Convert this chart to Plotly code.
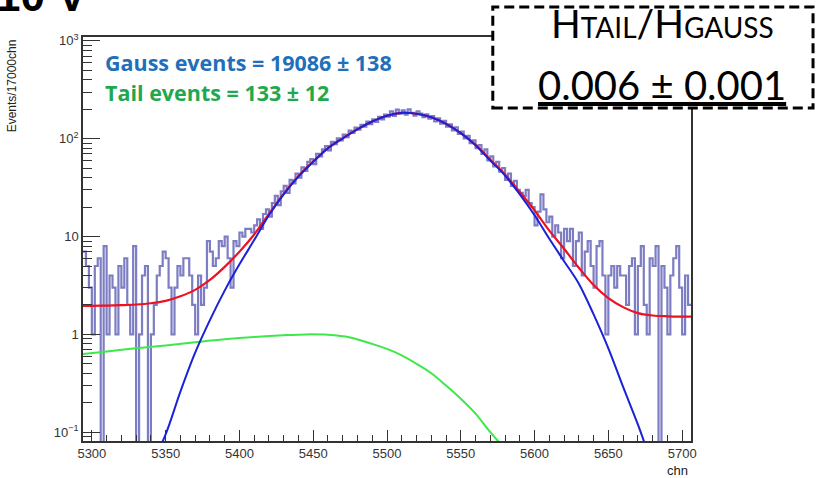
import plotly.graph_objects as go

# ---------------- data ----------------
BIN_START = 5294
BIN_WIDTH = 2
HIST_COUNTS = [
    7, 5, 3, 1, 5, 6, 0, 8, 1, 4,
    3, 1, 5, 3, 6, 2, 1, 8, 0, 1,
    4, 5, 0, 1, 2, 4, 5, 7, 6, 3,
    1, 3, 5, 4, 6, 6, 4, 2, 1, 4,
    2, 3, 9, 7, 5, 6, 9, 8, 10, 6,
    3, 9, 8, 11, 10, 12,
    12, 11, 13, 15, 12, 17, 19, 16, 22, 26,
    21, 29, 33, 28, 38, 35, 44, 40, 51, 47,
    58, 62, 55, 70, 66, 78, 84, 76, 93, 88,
    101, 96, 110, 104, 121, 115, 130, 124, 139, 133,
    150, 141, 158, 149, 167, 158, 176, 168, 190, 171,
    198, 180, 195, 176, 200, 184, 172, 190, 181, 166,
    178, 160, 170, 150, 162, 143, 152, 133, 140, 122,
    131, 112, 118, 101, 107, 90, 96, 80, 86, 70,
    78, 60, 66, 52, 58, 46, 50, 38, 44, 33,
    37, 30, 28, 26, 30, 22, 20, 13, 18, 27,
    19, 14, 16, 10, 13, 11, 6, 12, 9, 12,
    5, 9, 11, 4, 7, 9, 5, 3, 8, 9,
    4, 1, 4, 5, 3, 5, 4, 4, 2, 5,
    6, 1, 5, 8, 2, 1, 6, 5, 8, 0,
    5, 3, 1, 4, 6, 8, 3, 1, 4, 2,
]

TOTAL_X = [5294, 5300, 5310, 5320, 5330, 5340, 5350, 5360, 5370, 5380, 5390, 5400,
           5410, 5420, 5430, 5440, 5450, 5460, 5470, 5480, 5490, 5500, 5510, 5520,
           5530, 5540, 5550, 5560, 5570, 5580, 5590, 5600, 5610, 5620, 5630, 5640,
           5650, 5660, 5670, 5680, 5690, 5700, 5706]
TOTAL_Y = [1.95, 1.96, 1.97, 1.99, 2.02, 2.08, 2.2, 2.45, 2.85, 3.6, 4.9, 7.0,
           10.5, 17, 27.5, 41.5, 58.5, 80, 101, 125, 150, 172, 184, 180,
           166, 142, 114, 86.5, 61, 43, 28.5, 18.5, 11.5, 7.5, 4.8, 3.2,
           2.35, 1.9, 1.65, 1.56, 1.53, 1.52, 1.52]

GAUSS_X = [5340, 5350, 5360, 5370, 5380, 5390, 5400, 5410, 5420, 5430, 5440, 5450,
           5460, 5470, 5480, 5490, 5500, 5510, 5520, 5530, 5540, 5550, 5560, 5570,
           5580, 5590, 5600, 5610, 5620, 5630, 5640, 5650, 5660, 5670, 5680]
GAUSS_Y = [0.045, 0.095, 0.26, 0.65, 1.4, 2.8, 5.2, 9.2, 16.5, 27, 41, 58,
           80, 101, 125, 150, 172, 184, 180, 166, 142, 114, 86, 60,
           42, 27, 16.5, 9.5, 5.6, 3.3, 1.6, 0.72, 0.29, 0.12, 0.045]

TAIL_X = [5294, 5310, 5330, 5350, 5370, 5390, 5410, 5430, 5445, 5460, 5475, 5490,
          5500, 5510, 5520, 5530, 5540, 5550, 5560, 5570, 5580]
TAIL_Y = [0.63, 0.67, 0.72, 0.77, 0.83, 0.89, 0.94, 0.98, 1.0, 0.99, 0.93, 0.80,
          0.71, 0.61, 0.50, 0.40, 0.30, 0.22, 0.155, 0.10, 0.068]

X_TICKS = [5300, 5350, 5400, 5450, 5500, 5550, 5600, 5650, 5700]
Y_TICKS = [0.1, 1, 10, 100, 1000]
Y_TICK_TEXT = ["10<sup>\u22121</sup>", "1", "10", "10<sup>2</sup>", "10<sup>3</sup>"]

GAUSS_LABEL = "Gauss events = 19086 \u00b1 138"
TAIL_LABEL = "Tail events = 133 \u00b1 12"
RATIO_TITLE = ("H<span style='font-size:28px'>TAIL</span>/H"
               "<span style='font-size:28px'>GAUSS</span>")
RATIO_VALUE = "<u>0.006 \u00b1 0.001</u>"
SLIDE_TITLE = "10 V"

# ---------------- figure ----------------
edges = [BIN_START + BIN_WIDTH * i for i in range(len(HIST_COUNTS) + 1)]
hist_y = [c if c > 0 else 1e-4 for c in HIST_COUNTS]
hist_y = hist_y + [hist_y[-1]]

fig = go.Figure()
fig.add_trace(go.Scatter(x=edges, y=hist_y, mode="lines", line_shape="hv",
                         line=dict(color="rgba(70,70,170,0.7)", width=2.2),
                         hoverinfo="skip"))
fig.add_trace(go.Scatter(x=TAIL_X, y=TAIL_Y, mode="lines", line_shape="spline",
                         line=dict(color="#3ee84a", width=2)))
fig.add_trace(go.Scatter(x=TOTAL_X, y=TOTAL_Y, mode="lines", line_shape="spline",
                         line=dict(color="#ee1122", width=2.2)))
fig.add_trace(go.Scatter(x=GAUSS_X, y=GAUSS_Y, mode="lines", line_shape="spline",
                         line=dict(color="#1a22d8", width=2)))

fig.update_layout(
    width=816, height=478,
    margin=dict(l=83, r=125, t=37, b=37),
    paper_bgcolor="white", plot_bgcolor="white",
    showlegend=False,
    font=dict(family="Liberation Sans, Arial, sans-serif", color="#222"),
)
fig.update_xaxes(
    range=[5294, 5706], showgrid=False, zeroline=False,
    showline=True, mirror=True, linecolor="#333", linewidth=1.5,
    ticks="inside", ticklen=11, tickwidth=1.3, tickcolor="#333",
    tickvals=X_TICKS, tickfont=dict(size=13, color="#333"),
    minor=dict(ticks="inside", ticklen=6, tickwidth=1.2, tickcolor="#333", dtick=10),
)
minor_y = [m * 10 ** e for e in range(-2, 3) for m in range(2, 10)]
fig.update_yaxes(
    type="log", range=[-1.09, 3.04], showgrid=False, zeroline=False,
    showline=True, mirror=True, linecolor="#333", linewidth=1.5,
    ticks="inside", ticklen=17, tickwidth=1.3, tickcolor="#333",
    tickvals=Y_TICKS, ticktext=Y_TICK_TEXT, tickfont=dict(size=13, color="#333"),
    minor=dict(ticks="inside", ticklen=9, tickwidth=1.2, tickcolor="#333", tickvals=minor_y),
)

# dashed ratio box (white, covering the frame corner)
fig.add_shape(type="rect", xref="paper", yref="paper",
              x0=0.674, x1=1.2007, y0=0.824, y1=1.074,
              fillcolor="white", line=dict(color="black", width=3, dash="10px,5px"),
              layer="above")

fig.add_annotation(text=RATIO_TITLE, xref="paper", yref="paper", x=0.953, y=1.034,
                   showarrow=False, xanchor="center", yanchor="middle",
                   font=dict(family="Lato", size=39, color="black"))
fig.add_annotation(text=RATIO_VALUE, xref="paper", yref="paper", x=0.953, y=0.882,
                   showarrow=False, xanchor="center", yanchor="middle",
                   font=dict(family="Lato", size=40, color="black"))

fig.add_annotation(text="<b>" + GAUSS_LABEL + "</b>", xref="paper", yref="paper",
                   x=0.0329, y=0.937, showarrow=False, xanchor="left", yanchor="middle",
                   font=dict(family="Open Sans", size=21.5, color="#1f6fba"))
fig.add_annotation(text="<b>" + TAIL_LABEL + "</b>", xref="paper", yref="paper",
                   x=0.0329, y=0.862, showarrow=False, xanchor="left", yanchor="middle",
                   font=dict(family="Open Sans", size=21.5, color="#1fa84e"))

fig.add_annotation(text="Events/17000chn", xref="paper", yref="paper",
                   x=-0.117, y=1.0, textangle=-90, showarrow=False,
                   xanchor="center", yanchor="top",
                   font=dict(size=12, color="#222"))
fig.add_annotation(text="chn", xref="paper", yref="paper", x=0.998, y=-0.072,
                   showarrow=False, xanchor="right", yanchor="middle",
                   font=dict(size=13, color="#222"))

# cropped slide title at the very top
fig.add_annotation(text="<b>" + SLIDE_TITLE + "</b>", xref="paper", yref="paper",
                   x=-0.147, y=1.037, showarrow=False, xanchor="left", yanchor="bottom",
                   font=dict(size=44, color="black"))

fig.write_html("out.html")
